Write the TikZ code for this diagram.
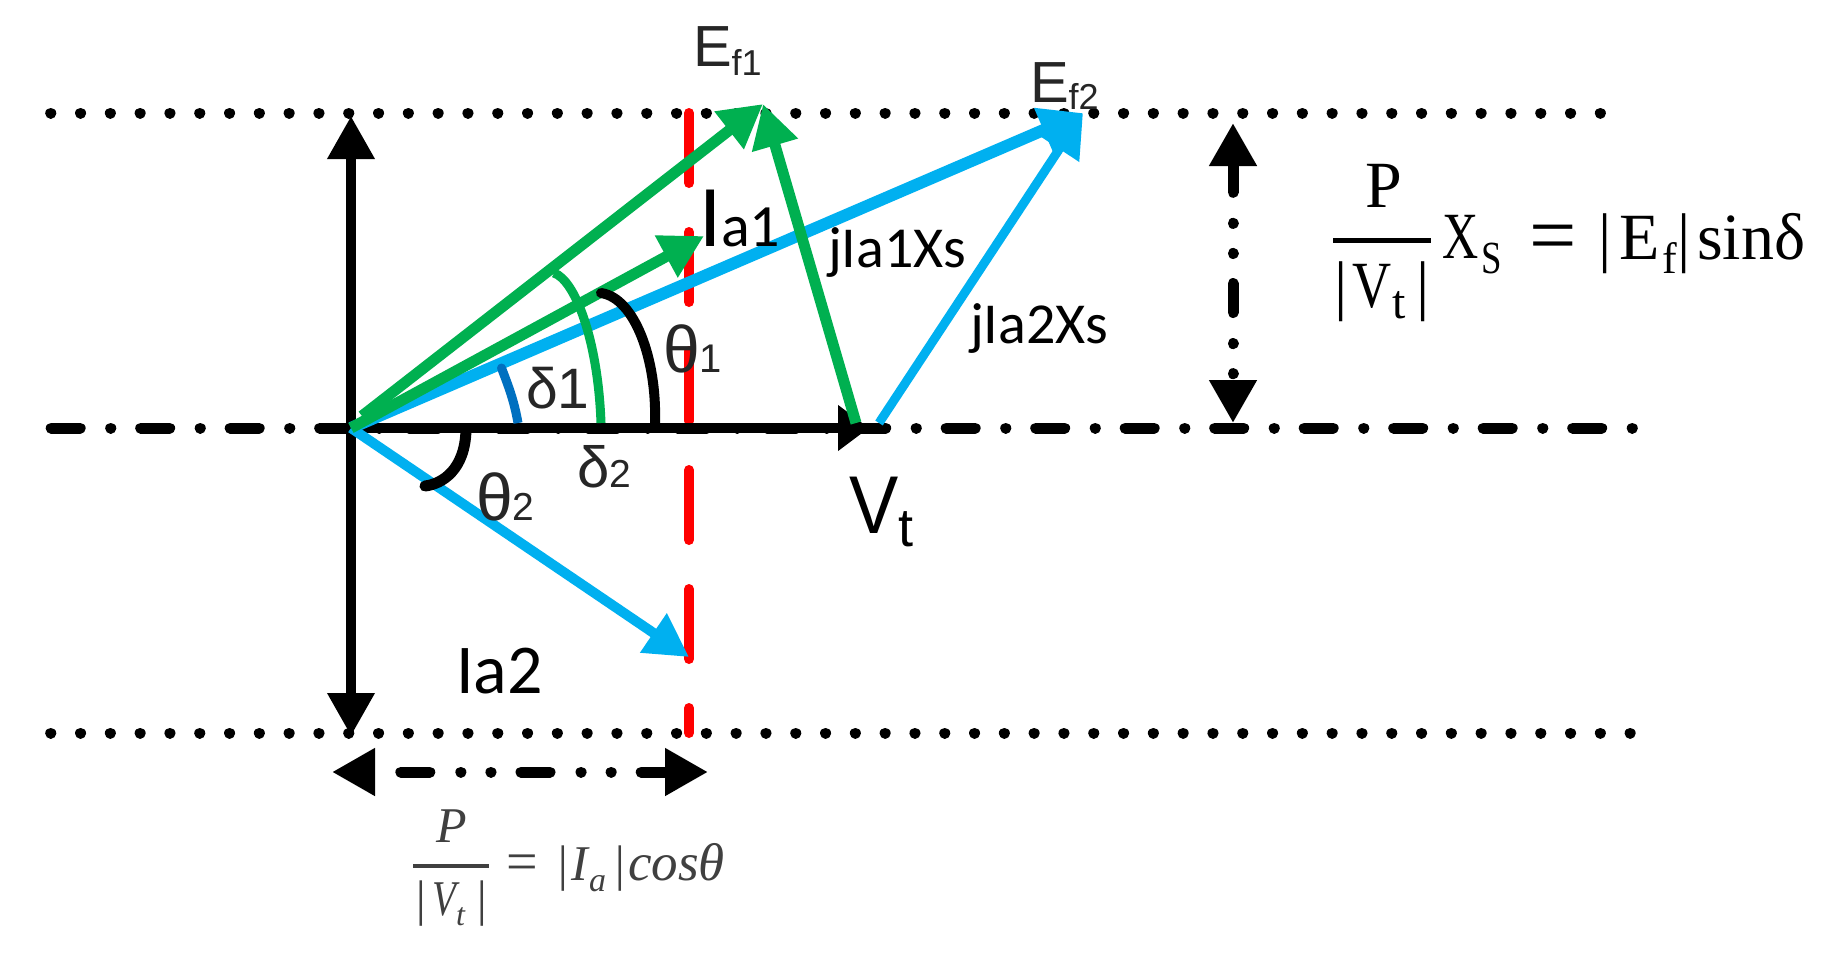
\documentclass[tikz,border=0pt]{standalone}
\usepackage{fontspec}
\usepackage{graphicx}
\setmainfont{Carlito}
\newfontfamily\serfont{Liberation Serif}
\newfontfamily\arialfont{Liberation Sans}
\usetikzlibrary{arrows.meta}
\definecolor{vgreen}{HTML}{00B050}
\definecolor{vblue}{HTML}{00B0F0}
\definecolor{dblue}{HTML}{0070C0}
\definecolor{vred}{HTML}{FF0000}
\definecolor{fgray}{HTML}{404040}
\definecolor{tgray}{HTML}{262626}
\newcommand\fs[1]{\fontsize{#1pt}{#1pt}\selectfont}
\newcommand\low[2]{\raisebox{-#1pt}{#2}}
\tikzset{
  head/.style={-{Triangle[length=43pt,width=45pt]}},
  dottedrule/.style={line width=11pt,line cap=round,dash pattern=on 0.1pt off 29.7pt},
  dashdotrule/.style={line width=11pt,line cap=round,dash pattern=on 29pt off 30.5pt on 0.1pt off 29.9pt},
  dashdotdot/.style={line width=11pt,line cap=round,{Triangle[length=43pt,width=45pt]}-{Triangle[length=43pt,width=45pt]},dash pattern=on 29pt off 31pt on 0.1pt off 30pt on 0.1pt off 30pt},
  redrule/.style={line width=10pt,line cap=round,vred,dash pattern=on 70pt off 49pt},
  arcmark/.style={line width=9pt,line cap=round},
  txt/.style={inner sep=0pt,outer sep=0pt,anchor=base west},
  stxt/.style={txt,font=\serfont},
  ftxt/.style={txt,text=fgray,font=\serfont\itshape},
}
\begin{document}
\begin{tikzpicture}[x=1pt,y=-1pt]
\useasboundingbox (0,0) rectangle (1845,954);
\fill[white] (0,0) rectangle (1845,954);

\coordinate (topL) at (50.7,113);
\coordinate (topR) at (1603,113);
\coordinate (botL) at (50.7,733);
\coordinate (botR) at (1633,733);
\coordinate (midL) at (51.2,428);
\coordinate (midR) at (1634,428);
\coordinate (redT) at (689,113);
\coordinate (redB) at (689,733);
\coordinate (O) at (351,428);
\coordinate (axT) at (351,116);
\coordinate (axB) at (351,736);
\coordinate (Vtip) at (869,428);
\coordinate (Ef1) at (763,104);
\coordinate (Ef1s) at (362,416);
\coordinate (Ef2) at (1083,113);
\coordinate (Ia1) at (704,236);
\coordinate (Ia2) at (689,657);
\coordinate (V1) at (856,423);
\coordinate (V2) at (879,423);
\coordinate (rT) at (1233,123);
\coordinate (rB) at (1233,423);
\coordinate (bL) at (332,772);
\coordinate (bR) at (708,772);

% reference lines
\draw[dottedrule] (topL) -- (topR);
\draw[dottedrule] (botL) -- (botR);
\draw[redrule] (redT) -- (redB);
\draw[dashdotrule] (midL) -- (midR);

% axes
\draw[line width=10pt,head] (O) -- (axT);
\draw[line width=10pt,head] (O) -- (axB);
\draw[line width=10pt,-{Triangle[length=31pt,width=44pt]}] (O) -- (Vtip);

% phasors
\draw[line width=12pt,vblue,head] (O) -- (Ef2);
\draw[line width=9pt,vblue,head] (V2) -- (Ef2);
\draw[line width=10pt,vblue,head] (O) -- (Ia2);
\draw[line width=11pt,vgreen,head] (Ef1s) -- (Ef1);
\draw[line width=11pt,vgreen,head] (O) -- (Ia1);
\draw[line width=11pt,vgreen,head] (V1) -- (Ef1);

% angle arcs
\draw[arcmark,dblue,line cap=butt] (518,423) .. controls (514,400) and (508,385) .. (501.5,368);
\fill[dblue] (501.5,368) circle (4.5pt);
\draw[arcmark,vgreen,line cap=butt] (601,423) .. controls (598,340) and (575,280) .. (554,273);
\draw[line width=10pt,line cap=round] (601,293) .. controls (635,298) and (657,360) .. (655,423);
\draw[line width=11pt,line cap=round] (466,430) .. controls (465,470) and (442,484) .. (425,486);

% double arrows
\draw[dashdotdot,dash phase=0pt] (rT) -- (rB);
\draw[dashdotdot,dash phase=91.7pt] (bL) -- (bR);

% labels
\node[txt] (lEf1) at (693,66) {\arialfont\color{tgray}\fs{58}E\low{9}{\fs{36}f1}};
\node[txt] (lEf2) at (1030,102) {\arialfont\color{tgray}\fs{58}E\low{7}{\fs{36}f2}};
\node[txt] (lIa1) at (699,246) {{\fs{88}I}{\fs{60}a1}};
\node[txt] (lj1) at (828,267) {\fs{58}jIa1Xs};
\node[txt] (lj2) at (970,343) {\fs{58}jIa2Xs};
\node[txt] (ld1) at (526,408) {\arialfont\color{tgray}\fs{57}δ1};
\node[txt] (lt1) at (663,372) {\arialfont\color{tgray}\fs{66}θ\fs{40}1};
\node[txt] (ld2) at (577,487) {\arialfont\color{tgray}\fs{58}δ\fs{39}2};
\node[txt] (lt2) at (476,520) {\arialfont\color{tgray}\fs{66}θ\fs{39}2};
\node[txt] (lVt) at (849,533) {\arialfont\fs{82}\scalebox{.9}[1]{V}\low{13}{\fs{54}t}};
\node[txt] (lIa2) at (456,693) {\fs{70}Ia2};

% right formula
\node[stxt] (rP) at (1365,207) {\fs{66}P};
\draw[line width=5pt] (1333,240.5) -- (1431,240.5);
\node[stxt] (rBa) at (1334.6,307) {\fs{66}|};
\node[stxt] (rV) at (1352,307) {\fs{66}\scalebox{.82}[1]{V}};
\node[stxt] (rt) at (1392,318) {\fs{48}t};
\node[stxt] (rBb) at (1416.5,307) {\fs{66}|};
\node[stxt] (rX) at (1442,258) {\fs{66}\scalebox{.76}[1]{X}};
\node[stxt] (rS) at (1481,273) {\fs{46}\scalebox{.8}[1]{S}};
\node[stxt] (rEq) at (1529,263) {\fs{84}=};
\node[stxt] (rBc) at (1598.4,259) {\fs{66}|};
\node[stxt] (rE) at (1619,259) {\fs{66}E};
\node[stxt] (rf) at (1662,273) {\fs{44}f};
\node[stxt] (rBd) at (1677.4,259) {\fs{66}|};
\node[stxt] (rS2) at (1697,259) {\fs{66}sinδ};

% bottom formula
\node[ftxt] (bP) at (436,842) {\fs{50}P};
\draw[line width=4pt,fgray] (413,865.5) -- (489,865.5);
\node[ftxt] (bBa) at (413,915) {\fs{50}|};
\node[ftxt] (bV) at (432,915) {\fs{50}\scalebox{.78}[1]{V}};
\node[ftxt] (bt) at (456,925) {\fs{32}t};
\node[ftxt] (bBb) at (474,915) {\fs{50}|};
\node[stxt,text=fgray] (bEq) at (506.5,880.5) {\fs{56}=};
\node[ftxt] (bBc) at (555,880) {\fs{50}|};
\node[ftxt] (bI) at (571,880) {\fs{50}I};
\node[ftxt] (ba) at (589,891) {\fs{34}a};
\node[ftxt] (bBd) at (612,880) {\fs{50}|};
\node[ftxt] (bC) at (628,880) {\fs{53}cosθ};
\end{tikzpicture}
\end{document}
